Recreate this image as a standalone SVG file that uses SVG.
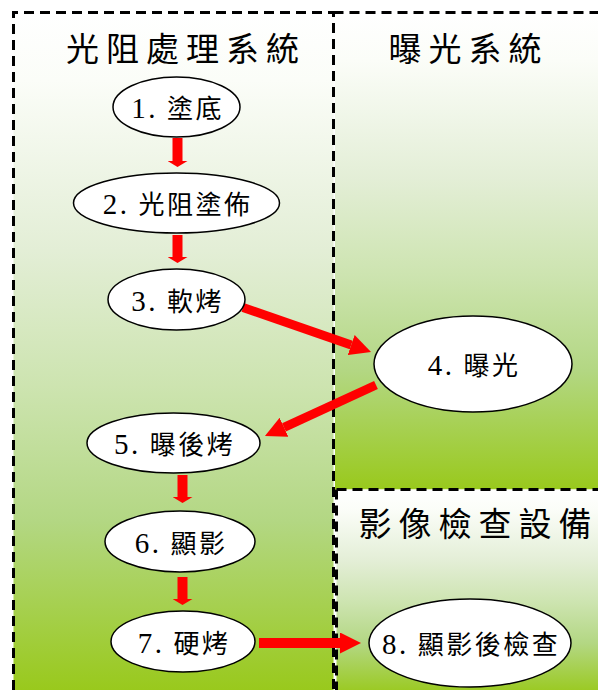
<svg xmlns="http://www.w3.org/2000/svg" width="598" height="690" viewBox="0 0 598 690">
<style>
.border{fill:none;stroke:#000;stroke-width:3;stroke-dasharray:10 6}
.title{font-family:'Liberation Serif','Noto Sans CJK TC',serif;font-size:33px;letter-spacing:7px;text-anchor:middle;fill:#000}
.node ellipse{fill:#fff;stroke:#000;stroke-width:1.5}
.node text{font-family:'Liberation Serif','Noto Sans CJK TC',serif;font-size:26px;letter-spacing:2.5px;text-anchor:middle;fill:#000}
.num{font-size:29px}
.conn line{stroke:#ff0000;stroke-width:10;fill:none}
.conn .diag{stroke-width:9}
</style>
<defs>
<linearGradient id="bg" x1="0" y1="0" x2="0" y2="1">
<stop offset="0" stop-color="#ffffff"/>
<stop offset="0.1" stop-color="#fbfdf8"/>
<stop offset="0.35" stop-color="#e3eed6"/>
<stop offset="0.55" stop-color="#cde4b0"/>
<stop offset="0.75" stop-color="#b3d783"/>
<stop offset="1" stop-color="#99c91c"/>
</linearGradient>
<marker id="flat" markerUnits="userSpaceOnUse" viewBox="0 0 6 20" markerWidth="6" markerHeight="20" refX="0" refY="10" orient="auto">
<path d="M0,0 L6,10 L0,20 z" fill="#ff0000"/>
</marker>
<marker id="long" markerUnits="userSpaceOnUse" viewBox="0 0 21 21" markerWidth="21" markerHeight="21" refX="0" refY="10.5" orient="auto">
<path d="M0,0 L21,10.5 L0,21 z" fill="#ff0000"/>
</marker>
</defs>

<g id="lane-photoresist">
<rect x="13.5" y="12.5" width="320" height="678" fill="url(#bg)"/>
<path class="border" d="M13.5,690 V12.5 H333.5 V690"/>
<text class="title" x="186" y="61">光阻處理系統</text>
</g>

<g id="lane-exposure">
<rect x="335" y="12.5" width="270" height="477" fill="url(#bg)"/>
<path class="border" d="M333.5,12.5 H600"/>
<text class="title" x="468.5" y="61">曝光系統</text>
</g>

<g id="lane-inspection">
<rect x="336.5" y="489.5" width="270" height="205" fill="url(#bg)"/>
<path class="border" d="M336.5,489.5 H600 M336.5,489.5 V690"/>
<text class="title" x="478.5" y="536">影像檢查設備</text>
</g>

<g id="connectors" class="conn">
<line x1="177.5" y1="138" x2="177.5" y2="161" marker-end="url(#flat)"/>
<line x1="177.5" y1="235" x2="177.5" y2="257" marker-end="url(#flat)"/>
<line class="diag" x1="243" y1="307.5" x2="351.2" y2="345" marker-end="url(#long)"/>
<line class="diag" x1="376" y1="385" x2="284" y2="427.3" marker-end="url(#long)"/>
<line x1="182.5" y1="475" x2="182.5" y2="497" marker-end="url(#flat)"/>
<line x1="182.5" y1="577" x2="182.5" y2="599" marker-end="url(#flat)"/>
<line x1="259" y1="643" x2="340" y2="643" marker-end="url(#long)"/>
</g>

<g id="node1" class="node">
<ellipse cx="176.5" cy="107" rx="63.5" ry="30"/>
<text x="177.75" y="118"><tspan class="num">1.</tspan> 塗底</text>
</g>
<g id="node2" class="node">
<ellipse cx="176.5" cy="203" rx="103" ry="30"/>
<text x="177.75" y="214"><tspan class="num">2.</tspan> 光阻塗佈</text>
</g>
<g id="node3" class="node">
<ellipse cx="176.5" cy="299.5" rx="68.5" ry="30.5"/>
<text x="177.75" y="310.5"><tspan class="num">3.</tspan> 軟烤</text>
</g>
<g id="node4" class="node">
<ellipse cx="473" cy="364" rx="99" ry="48"/>
<text x="474.25" y="375"><tspan class="num">4.</tspan> 曝光</text>
</g>
<g id="node5" class="node">
<ellipse cx="173.5" cy="443" rx="86.5" ry="30"/>
<text x="174.75" y="454"><tspan class="num">5.</tspan> 曝後烤</text>
</g>
<g id="node6" class="node">
<ellipse cx="180" cy="541.5" rx="75" ry="30.5"/>
<text x="181.25" y="552.5"><tspan class="num">6.</tspan> 顯影</text>
</g>
<g id="node7" class="node">
<ellipse cx="183" cy="641.5" rx="72" ry="30.5"/>
<text x="184.25" y="652.5"><tspan class="num">7.</tspan> 硬烤</text>
</g>
<g id="node8" class="node">
<ellipse cx="470" cy="643" rx="101" ry="44"/>
<text x="471.25" y="654"><tspan class="num">8.</tspan> 顯影後檢查</text>
</g>
</svg>
